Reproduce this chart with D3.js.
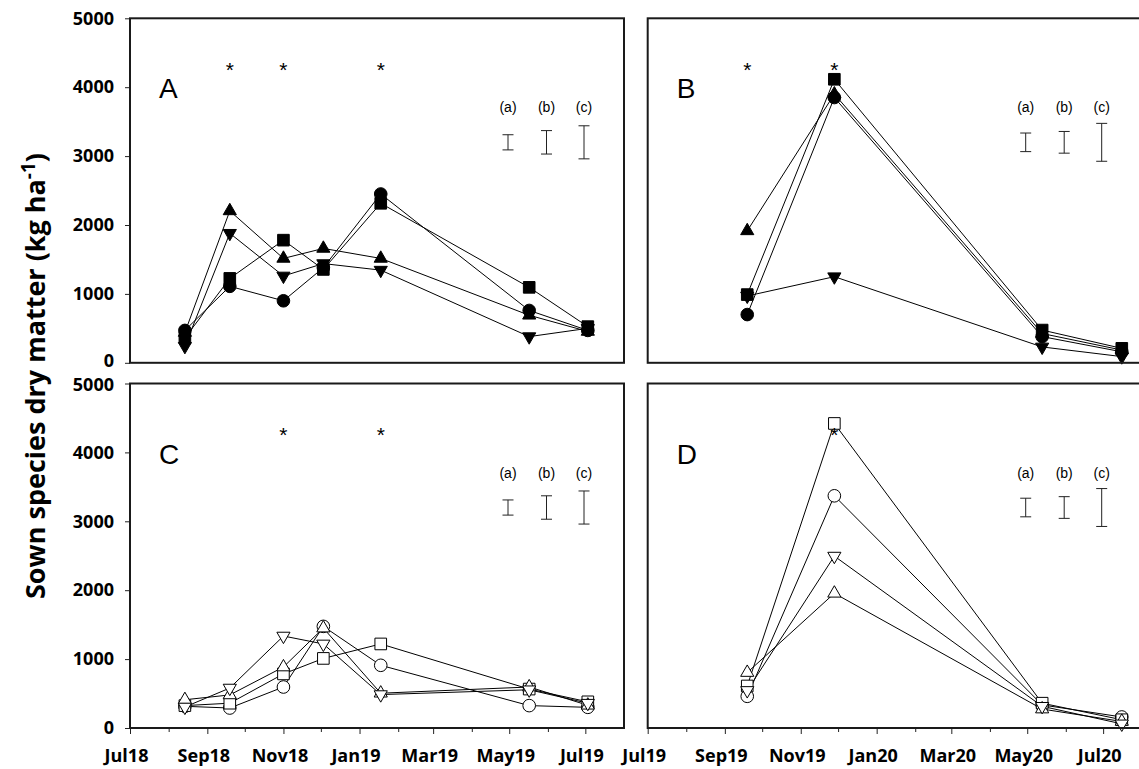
<!DOCTYPE html>
<html>
<head>
<meta charset="utf-8">
<script src="https://cdn.jsdelivr.net/npm/d3@7"></script>
<style>
body { margin: 0; background: #fff; }
svg { display: block; font-family: "Liberation Sans", Arial, sans-serif; }
</style>
</head>
<body>
<svg id="chart" width="1139" height="769"></svg>
<script>
// sampling dates
const datesYr1 = ["2018-08-14", "2018-09-19", "2018-11-01", "2018-12-03", "2019-01-18", "2019-05-17", "2019-07-03"];
const datesYr2 = ["2019-09-19", "2019-11-28", "2020-05-13", "2020-07-16"];

// axis ticks
const yTicks = [0, 1000, 2000, 3000, 4000, 5000];
const xLabelsYr1 = ["Jul18", "Sep18", "Nov18", "Jan19", "Mar19", "May19", "Jul19"];
const xLabelsYr2 = ["Jul19", "Sep19", "Nov19", "Jan20", "Mar20", "May20", "Jul20"];

// panel A (filled symbols, year 1)
const aCircle  = [470, 1110, 900, 1380, 2450, 760, 470];
const aSquare  = [360, 1225, 1780, 1355, 2315, 1095, 525];
const aTriUp   = [440, 2205, 1515, 1660, 1515, 690, 455];
const aTriDown = [240, 1880, 1260, 1440, 1345, 380, 500];

// panel B (filled symbols, year 2)
const bCircle  = [700, 3850, 380, 160];
const bSquare  = [990, 4115, 475, 210];
const bTriUp   = [1915, 3900, 425, 185];
const bTriDown = [970, 1250, 230, 90];

// panel C (open symbols, year 1)
const cCircle  = [315, 290, 595, 1475, 910, 325, 300];
const cSquare  = [325, 360, 785, 1010, 1220, 565, 380];
const cTriUp   = [410, 480, 885, 1450, 505, 595, 330];
const cTriDown = [305, 580, 1335, 1220, 485, 555, 360];

// panel D (open symbols, year 2)
const dCircle  = [460, 3370, 335, 160];
const dSquare  = [610, 4420, 360, 120];
const dTriUp   = [805, 1955, 275, 95];
const dTriDown = [545, 2495, 315, 60];

// significant dates (*)
const starsA = ["2018-09-19", "2018-11-01", "2019-01-18"];
const starsB = ["2019-09-19", "2019-11-28"];
const starsC = ["2018-11-01", "2019-01-18"];
const starsD = ["2019-11-28"];
const starLevel = 4320;

// error bars (a) (b) (c)
const barLabels = ["(a)", "(b)", "(c)"];
const barsAC = [220, 340, 480];
const barsBD = [270, 315, 550];
const barMid = 3200;

const parse = d3.timeParse("%Y-%m-%d");
const svg = d3.select("#chart");

const panelW = 494, panelH = 344.5;
const yr1 = [new Date(2018, 6, 1), new Date(2019, 7, 1)];
const yr2 = [new Date(2019, 6, 1), new Date(2020, 7, 1)];

const panels = [
    { letter: "A", x0: 130, y0: 18.3, domain: yr1, dates: datesYr1, open: false,
      series: [aCircle, aSquare, aTriUp, aTriDown], stars: starsA, bars: barsAC, yAxis: true, xLabels: null },
    { letter: "B", x0: 647.7, y0: 18.3, domain: yr2, dates: datesYr2, open: false,
      series: [bCircle, bSquare, bTriUp, bTriDown], stars: starsB, bars: barsBD, yAxis: false, xLabels: null },
    { letter: "C", x0: 130, y0: 383.5, domain: yr1, dates: datesYr1, open: true,
      series: [cCircle, cSquare, cTriUp, cTriDown], stars: starsC, bars: barsAC, yAxis: true, xLabels: xLabelsYr1 },
    { letter: "D", x0: 647.7, y0: 383.5, domain: yr2, dates: datesYr2, open: true,
      series: [dCircle, dSquare, dTriUp, dTriDown], stars: starsD, bars: barsBD, yAxis: false, xLabels: xLabelsYr2 }
];

// circle, square, triangle up, triangle down
const shapes = [
    { type: d3.symbolCircle, size: 125, rot: 0 },
    { type: d3.symbolSquare, size: 135, rot: 0 },
    { type: d3.symbolTriangle, size: 75, rot: 0 },
    { type: d3.symbolTriangle, size: 75, rot: 180 }
];

panels.forEach((p, pi) => {
    const x = d3.scaleTime().domain(p.domain).range([p.x0, p.x0 + panelW]);
    const y = d3.scaleLinear().domain([0, 5000]).range([p.y0 + panelH, p.y0]);
    const g = svg.append("g");
    const dates = p.dates.map(parse);

    // lines
    p.series.forEach(vals => {
        g.append("path")
            .datum(vals)
            .attr("fill", "none")
            .attr("stroke", "#000")
            .attr("stroke-width", 1)
            .attr("d", d3.line().x((d, i) => x(dates[i])).y(d => y(d)));
    });

    // symbols
    p.series.forEach((vals, k) => {
        const s = shapes[k];
        g.selectAll(null)
            .data(vals)
            .join("path")
            .attr("transform", (d, i) => `translate(${x(dates[i])},${y(d)}) rotate(${s.rot})`)
            .attr("d", d3.symbol().type(s.type).size(s.size))
            .attr("fill", p.open ? "#fff" : "#000")
            .attr("stroke", "#000")
            .attr("stroke-width", 1);
    });

    // stars
    g.selectAll(null)
        .data(p.stars)
        .join("text")
        .attr("x", d => x(parse(d)))
        .attr("y", y(starLevel) + 12)
        .attr("text-anchor", "middle")
        .style("font-size", "21px")
        .text("*");

    // panel letter
    g.append("text")
        .attr("x", p.x0 + 29)
        .attr("y", p.y0 + 80)
        .style("font-size", "28px")
        .text(p.letter);

    // error bar key
    const keyX = [378, 416.5, 454];
    p.bars.forEach((len, i) => {
        const cx = p.x0 + keyX[i];
        g.append("text")
            .attr("x", cx)
            .attr("y", p.y0 + 94)
            .attr("text-anchor", "middle")
            .style("font-size", "14px")
            .text(barLabels[i]);
        const y1 = y(barMid + len / 2), y2 = y(barMid - len / 2);
        const eb = g.append("g").attr("stroke", "#222").attr("stroke-width", 1);
        eb.append("line").attr("x1", cx).attr("x2", cx).attr("y1", y1).attr("y2", y2);
        eb.append("line").attr("x1", cx - 5.5).attr("x2", cx + 5.5).attr("y1", y1).attr("y2", y1);
        eb.append("line").attr("x1", cx - 5.5).attr("x2", cx + 5.5).attr("y1", y2).attr("y2", y2);
    });

    // y axis
    if (p.yAxis) {
        const ya = g.append("g")
            .attr("transform", `translate(${p.x0},0)`)
            .call(d3.axisLeft(y).tickValues(yTicks).tickSize(5).tickPadding(11).tickFormat(d3.format("d")));
        ya.select(".domain").remove();
        ya.selectAll("line").attr("stroke", "#222");
        ya.selectAll("text")
            .style("font-family", "'Open Sans', sans-serif")
            .style("font-weight", "bold")
            .style("font-size", "18px")
            .attr("fill", "#000")
            .attr("dy", d => (pi === 0 && d === 0) ? "0.22em" : (pi === 2 && d === 5000 ? "0.38em" : "0.32em"));
    }

    // x axis
    if (p.xLabels) {
        const months = d3.timeMonth.range(p.domain[0], p.domain[1]);
        const xa = g.append("g")
            .attr("transform", `translate(0,${p.y0 + panelH})`)
            .call(d3.axisBottom(x).tickValues(months).tickSize(5).tickPadding(16)
                .tickFormat((d, i) => i % 2 === 0 ? p.xLabels[i / 2] : ""));
        xa.select(".domain").remove();
        xa.selectAll("line").attr("stroke", "#222")
            .attr("y2", (d, i) => i % 2 === 0 ? 6 : 4);
        xa.selectAll("text")
            .attr("x", -4)
            .style("font-family", "'Open Sans', sans-serif")
            .style("font-weight", "bold")
            .style("font-size", "18px")
            .attr("fill", "#000");
    }

    // frame
    g.append("rect")
        .attr("x", p.x0)
        .attr("y", p.y0)
        .attr("width", panelW)
        .attr("height", panelH)
        .attr("fill", "none")
        .attr("stroke", "#1a1a1a")
        .attr("stroke-width", 2);
});

// y title
const title = svg.append("text")
    .attr("transform", "translate(45,376) rotate(-90)")
    .attr("text-anchor", "middle")
    .style("font-family", "'Open Sans', sans-serif")
    .style("font-weight", "bold")
    .style("font-size", "27px");
title.append("tspan").text("Sown species dry matter (kg ha");
title.append("tspan").attr("dy", -10).style("font-size", "19px").text("-1");
title.append("tspan").attr("dy", 10).text(")");
</script>
</body>
</html>
